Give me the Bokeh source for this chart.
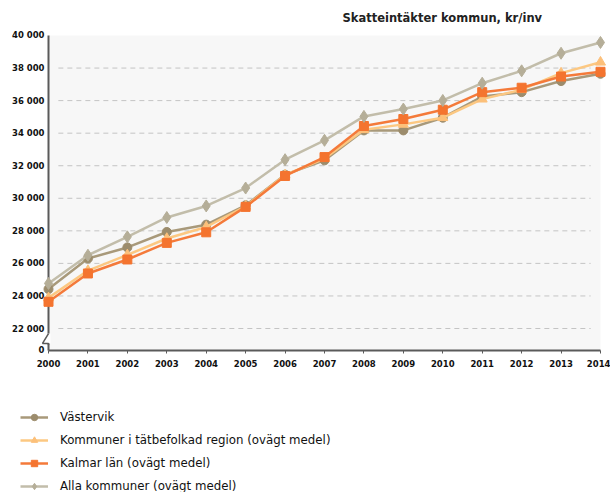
from bokeh.plotting import figure
from bokeh.models import (FixedTicker, Legend, LegendItem, Range1d, Label,
                          ColumnDataSource, BoxAnnotation)
from bokeh.embed import file_html
from bokeh.resources import INLINE

years = [2000, 2001, 2002, 2003, 2004, 2005, 2006, 2007, 2008, 2009, 2010, 2011, 2012, 2013, 2014]
vastervik = [24420, 26300, 26980, 27930, 28380, 29570, 31450, 32330, 34170, 34170, 34950, 36250, 36520, 37200, 37650]
tatbefolkad = [23880, 25560, 26520, 27530, 28240, 29510, 31430, 32440, 34210, 34540, 34950, 36090, 36670, 37690, 38360]
kalmar = [23640, 25380, 26240, 27260, 27910, 29470, 31370, 32530, 34440, 34870, 35440, 36520, 36790, 37480, 37770]
alla = [24770, 26500, 27630, 28820, 29530, 30630, 32370, 33560, 35030, 35480, 36010, 37070, 37830, 38910, 39570]

names = ["Västervik", "Kommuner i tätbefolkad region (ovägt medel)",
         "Kalmar län (ovägt medel)", "Alla kommuner (ovägt medel)"]
y_ticks = [20650, 22000, 24000, 26000, 28000, 30000, 32000, 34000, 36000, 38000, 40000]
y_labels = ["0", "22 000", "24 000", "26 000", "28 000", "30 000", "32 000",
            "34 000", "36 000", "38 000", "40 000"]
title_text = "Skatteintäkter kommun, kr/inv"

FONT = "DejaVu Sans"
AXIS_COLOR = "#5a5a5a"

X0, X1 = years[0], years[-1]
Y0, Y1 = y_ticks[0], y_ticks[-1]

W, H = 610, 492
p = figure(width=W, height=H, output_backend="svg", toolbar_location=None,
           x_range=Range1d(1998.7826, 2014.2536),
           y_range=Range1d(11925, 42150),
           min_border_left=0, min_border_right=0, min_border_top=0,
           min_border_bottom=0)
p.background_fill_color = "white"
p.border_fill_color = "white"
p.outline_line_color = None

# plot area background
p.add_layout(BoxAnnotation(left=X0, right=X1, bottom=Y0, top=Y1,
                           fill_color="#f7f7f7", fill_alpha=1,
                           line_color=None, level="underlay"))

# dashed horizontal grid lines
p.xgrid.visible = False
p.ygrid.visible = False
grid_y = y_ticks[1:-1]
p.segment(x0=[X0 + 0.25] * len(grid_y), x1=[X1 - 0.25] * len(grid_y),
          y0=grid_y, y1=grid_y, line_color="#c4c4c4", line_dash="5 4",
          line_width=1)

# title
p.add_layout(Label(x=342, y=H - 17, x_units="screen", y_units="screen",
                   text=title_text, text_font=FONT, text_font_size="11.5px",
                   text_font_style="bold", text_color="#222222",
                   text_baseline="middle", text_align="left"))

# axes
p.xaxis.ticker = FixedTicker(ticks=years)
p.xaxis.fixed_location = Y0
p.xaxis.bounds = (X0, X1)
p.yaxis.ticker = FixedTicker(ticks=y_ticks)
p.yaxis.major_label_overrides = {k: v for k, v in zip(y_ticks, y_labels)}
p.yaxis.fixed_location = X0
p.yaxis.bounds = (Y0, Y1)
for ax in (p.xaxis[0], p.yaxis[0]):
    ax.axis_line_color = AXIS_COLOR
    ax.axis_line_width = 2
    ax.major_tick_line_color = AXIS_COLOR
    ax.minor_tick_line_color = None
    ax.major_label_text_font = FONT
    ax.major_label_text_font_size = "8.5px"
    ax.major_label_text_font_style = "bold"
    ax.major_label_text_color = "#111111"
p.xaxis.major_tick_in = 0
p.xaxis.major_tick_out = 3
p.yaxis.major_tick_in = 0
p.yaxis.major_tick_out = 0
p.yaxis.major_label_standoff = 4
p.xaxis.major_label_standoff = 7

# axis break
brk_hi, brk_lo = 21690, 21080
cover = p.segment(x0=[X0], x1=[X0], y0=[brk_lo], y1=[brk_hi],
                  line_color="white", line_width=4)
cover.level = "overlay"
zig = p.line(x=[X0, X0 - 0.152, X0, X0], y=[brk_hi, brk_lo, brk_lo, brk_lo - 100],
             line_color=AXIS_COLOR, line_width=1.5)
zig.level = "overlay"

series = [
    (vastervik, "#a8997a", "#9c8c6c", "circle", 9),
    (tatbefolkad, "#fcc882", "#fcc07a", "triangle", 10),
    (kalmar, "#f47a3a", "#f4742f", "square", 9),
    (alla, "#c2bdaa", "#b5ae98", "diamond", 12),
]
items = []
for (vals, lc, mc, marker, size), name in zip(series, names):
    src = ColumnDataSource(dict(x=years, y=vals))
    r1 = p.line("x", "y", source=src, line_color=lc, line_width=2.5)
    r2 = p.scatter("x", "y", source=src, marker=marker, size=size,
                   fill_color=mc, line_color=mc)
    r1.level = "overlay"
    r2.level = "overlay"
    items.append(LegendItem(label=name, renderers=[r1, r2]))

legend = Legend(items=items, location=(20, -2), orientation="vertical",
                label_text_font=FONT, label_text_font_size="11.8px",
                label_text_color="#111111", glyph_width=28, glyph_height=16,
                label_height=16, spacing=7, label_standoff=12,
                border_line_color=None, background_fill_alpha=0,
                padding=0, margin=0)
p.add_layout(legend, "center")

open("out.html", "w").write(file_html(p, INLINE))
